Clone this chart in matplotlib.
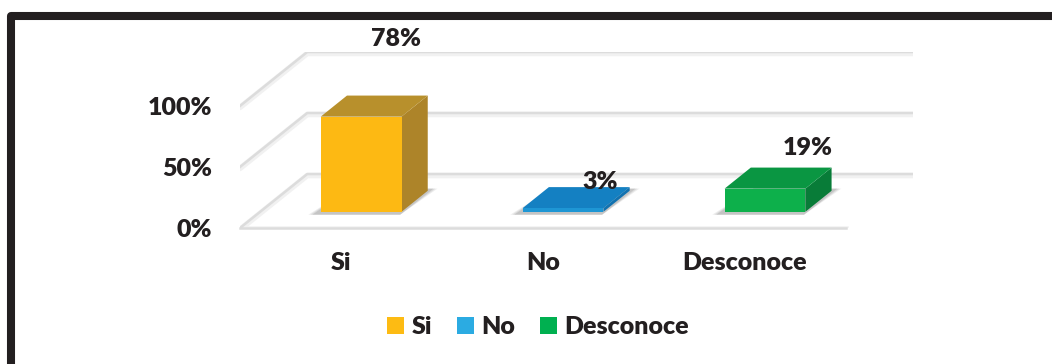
import matplotlib
matplotlib.use("Agg")
import matplotlib.pyplot as plt
from matplotlib.patches import Polygon, Patch
from matplotlib.lines import Line2D

plt.rcParams["font.family"] = ["Lato", "DejaVu Sans"]
plt.rcParams["font.weight"] = "heavy"

# datos
categories = ["Si", "No", "Desconoce"]
values = [78, 3, 19]
tick_values = [0, 50, 100]
tick_labels = ["0%", "50%", "100%"]
value_labels = ["78%", "3%", "19%"]

# colores de las caras (frente, arriba, lado) y de la leyenda
front_colors = ["#FDB913", "#1E96D4", "#0DB04B"]
top_colors = ["#B8902C", "#1480C2", "#0A9642"]
side_colors = ["#AD8429", "#1272B0", "#087C38"]
legend_colors = ["#FDBB13", "#2BABE2", "#00B050"]
text_color = "#231F20"

W, H = 1052, 364
fig = plt.figure(figsize=(W / 100, H / 100), dpi=100)
fig.patch.set_facecolor("white")

# perspectiva oblicua: desplazamiento de la profundidad
DX = 0.333   # en unidades de categoria
DZ = 44.2    # en unidades de porcentaje
d0, d1 = 0.30, 0.69   # profundidad de las barras
hw = 0.20             # media anchura de barra


def proj(x, z, d):
    return (x + d * DX, z + d * DZ)


ax = fig.add_axes([240 / W, (H - 228) / H, 673 / W, 176 / H])
ax.set_xlim(-0.5, len(categories) - 0.5 + DX)
ax.set_ylim(0, 100 + DZ)
ax.patch.set_alpha(0)
for s in ax.spines.values():
    s.set_visible(False)

# rejilla: pared del fondo y lateral izquierda
x0, x1 = -0.5, len(categories) - 0.5
for t in tick_values:
    xs = [proj(x0, t, 0)[0], proj(x0, t, 1)[0], proj(x1, t, 1)[0]]
    ys = [proj(x0, t, 0)[1], proj(x0, t, 1)[1], proj(x1, t, 1)[1]]
    ax.plot(xs, [y - 1.2 for y in ys], color="#F1F1F1", lw=4, zorder=1,
            solid_capstyle="round")
    ax.plot(xs, ys, color="#DCDCDC", lw=1.8, zorder=2)
# borde delantero del suelo
ax.plot([x0, x1], [-1.2, -1.2], color="#F1F1F1", lw=4, zorder=1)
ax.plot([x0, x1], [0, 0], color="#DCDCDC", lw=1.8, zorder=2, clip_on=False)

# barras 3D
for i, v in enumerate(values):
    # sombra suave en el suelo
    for k, a in enumerate([0.10, 0.12, 0.16]):
        grow = 0.035 - k * 0.01
        sh = [proj(i - hw - grow - 0.02, -1.5, d0 - 0.02),
              proj(i + hw, -1.5, d0 - 0.02),
              proj(i + hw + grow, 0, d1 + 0.04),
              proj(i - hw, 0, d1 + 0.04)]
        ax.add_patch(Polygon(sh, closed=True, fc="#555555", ec="none",
                             alpha=a, zorder=3))
    front = [proj(i - hw, 0, d0), proj(i + hw, 0, d0),
             proj(i + hw, v, d0), proj(i - hw, v, d0)]
    top = [proj(i - hw, v, d0), proj(i + hw, v, d0),
           proj(i + hw, v, d1), proj(i - hw, v, d1)]
    side = [proj(i + hw, 0, d0), proj(i + hw, 0, d1),
            proj(i + hw, v, d1), proj(i + hw, v, d0)]
    ax.add_patch(Polygon(side, closed=True, fc=side_colors[i], ec="none", zorder=4))
    ax.add_patch(Polygon(top, closed=True, fc=top_colors[i], ec="none", zorder=4))
    ax.add_patch(Polygon(front, closed=True, fc=front_colors[i], ec="none", zorder=5))

# etiquetas de valor
label_offsets = [(6, 41), (8, 4), (12, 14)]
for i, v in enumerate(values):
    ax.annotate(value_labels[i], xy=proj(i, v, d1), xytext=label_offsets[i],
                textcoords="offset points", ha="center", va="center",
                fontsize=18, fontweight="heavy", color=text_color,
                annotation_clip=False, zorder=6)

# ejes
ax.set_yticks(tick_values, tick_labels)
ax.set_xticks(range(len(categories)), categories)
ax.tick_params(axis="y", length=0, pad=20, labelsize=18, labelcolor=text_color)
ax.tick_params(axis="x", length=0, pad=17, labelsize=18, labelcolor=text_color)

# leyenda
handles = [Patch(facecolor=c, edgecolor="none", label=l)
           for c, l in zip(legend_colors, categories)]
fig.legend(handles=handles, loc="center", bbox_to_anchor=(538 / W, 1 - 327 / H),
           ncol=3, frameon=False, fontsize=18, handlelength=0.68,
           handleheight=0.68, handletextpad=0.3, columnspacing=1.0,
           labelcolor=text_color, prop={"weight": "heavy", "size": 18})

# marco negro
fig.add_artist(Line2D([11 / W, 11 / W, 1.02], [-0.05, 1 - 16 / H, 1 - 16 / H],
                      transform=fig.transFigure, color="#231F20", lw=5.8,
                      solid_joinstyle="round"))

fig.savefig("out.png", dpi=100, facecolor="white")
